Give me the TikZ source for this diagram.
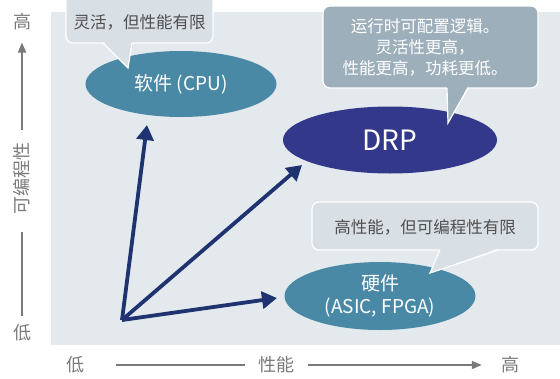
\documentclass[tikz,border=0pt]{standalone}
\usepackage{fontspec}
\setmainfont{Noto Sans CJK SC}
\usetikzlibrary{arrows.meta,shapes.geometric}

\definecolor{panelbg}{HTML}{E4E9EE}
\definecolor{notelight}{HTML}{D8DFE5}
\definecolor{notedark}{HTML}{9DAFBB}
\definecolor{tealblob}{HTML}{4A89A6}
\definecolor{navyblob}{HTML}{33388A}
\definecolor{vecblue}{HTML}{1E3370}
\definecolor{axisgrey}{HTML}{7A7A7A}
\definecolor{notegrey}{HTML}{505050}

\tikzstyle{blob}=[ellipse,text=white,inner sep=0pt,align=center,font=\fontsize{19}{23}\selectfont]
\tikzstyle{notebox}=[draw=white,line width=1.2pt,rounded corners=7pt]
\tikzstyle{noteedge}=[draw=white,line width=1.2pt]
\tikzstyle{notetext}=[align=center,inner sep=0pt,font=\fontsize{16.5}{21}\selectfont]
\tikzstyle{axislbl}=[text=axisgrey,inner sep=0pt,font=\fontsize{18}{18}\selectfont]
\tikzstyle{axisline}=[draw=axisgrey,line width=1.8pt]
\tikzstyle{axisarrow}=[axisline,-{Triangle[length=10pt,width=8pt]}]
\tikzstyle{vec}=[draw=vecblue,line width=3.8pt,-{Triangle[length=15pt,width=17pt]}]
\newcommand{\pxunit}{1pt}

\begin{document}
\begin{tikzpicture}[x=\pxunit, y=-\pxunit]
    \useasboundingbox (0,0) rectangle (560,378);
    \clip (0,0) rectangle (560,378);
    % panel behind the chart
    \fill[panelbg] (51,12) rectangle (560,345);

    % axis labels
    \node[axislbl] (hiY) at (22,22) {高};
    \node[axislbl, rotate=90] (progY) at (22,178) {可编程性};
    \node[axislbl] (loY) at (22,333) {低};
    \node[axislbl] (loX) at (75,365) {低};
    \node[axislbl] (perfX) at (276,365) {性能};
    \node[axislbl] (hiX) at (510,365) {高};
    % axis lines
    \path[axisarrow, shorten <=12pt, shorten >=12pt] (progY) -- (hiY);
    \path[axisline, shorten <=18pt, shorten >=9pt] (progY) -- (loY);
    \path[axisline, shorten <=32pt, shorten >=13pt] (loX) -- (perfX);
    \path[axisarrow, shorten <=14pt, shorten >=19pt] (perfX) -- (hiX);

    % the three blobs
    \node[blob, fill=tealblob, minimum width=191pt, minimum height=66pt] (cpu) at (181,84) {软件 (CPU)};
    \node[blob, fill=navyblob, minimum width=214pt, minimum height=67pt, font=\fontsize{28}{28}\selectfont] (drp) at (390,140) {DRP};
    \node[blob, fill=tealblob, minimum width=191pt, minimum height=68pt] (hw) at (380,296) {硬件\\(ASIC, FPGA)};

    % vectors from the origin
    \coordinate (origin) at (122,320);
    \coordinate (cpuTip) at (147,125);
    \coordinate (drpTip) at (302,165);
    \coordinate (hwTip) at (277,298);
    \foreach \dest in {cpuTip,drpTip,hwTip}
        \path[vec] (origin) -- (\dest);

    % callouts
    \path[notebox, fill=notelight] (66,-8) rectangle (213,43);
    \fill[notelight] (103,41) -- (128,68) -- (132,41) -- cycle;
    \path[noteedge] (103,43) -- (128,68) -- (132,43);
    \node[notetext, text=notegrey] (cpuNote) at (139.5,22) {灵活，但性能有限};

    \path[notebox, fill=notedark] (323,6) rectangle (538,88);
    \fill[notedark] (447,86) -- (448,123) -- (468,86) -- cycle;
    \path[noteedge] (447,88) -- (448,123) -- (468,88);
    \node[notetext, text=white] (drpNote) at (425,47) {运行时可配置逻辑。\\灵活性更高，\\性能更高，功耗更低。};

    \path[notebox, fill=notelight] (312,202) rectangle (538,250);
    \fill[notelight] (440,248) -- (430,273) -- (498,248) -- cycle;
    \path[noteedge] (440,250) -- (430,273) -- (498,250);
    \node[notetext, text=notegrey] (hwNote) at (425,227) {高性能，但可编程性有限};
\end{tikzpicture}
\end{document}
